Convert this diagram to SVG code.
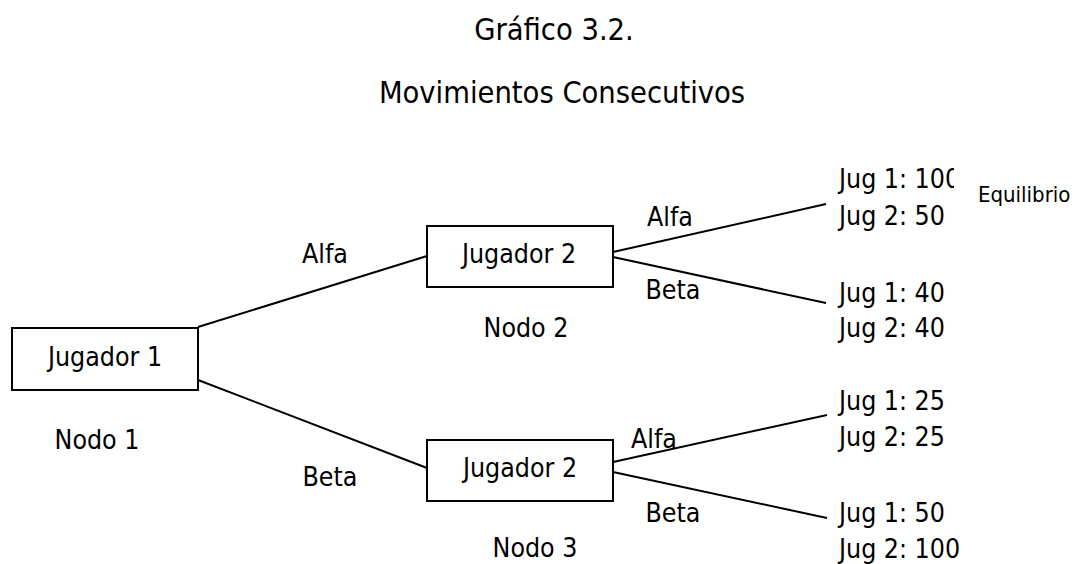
<svg xmlns="http://www.w3.org/2000/svg" width="1080" height="564" viewBox="0 0 1080 564">
<style>
text{font-family:"DejaVu Sans Condensed","DejaVu Sans","Noto Sans",sans-serif;font-stretch:condensed;font-size:26.5px;fill:#000}
.t{font-size:30.5px;text-anchor:middle}
.c{text-anchor:middle}
.s{font-size:22px}
rect.n{fill:#fff;stroke:#000;stroke-width:2}
#connectors line{stroke:#000;stroke-width:2}
</style>
<defs>
<clipPath id="clip100"><rect x="820" y="150" width="134" height="50"/></clipPath>
</defs>
<rect width="1080" height="564" fill="#fff"/>
<g id="title">
<text class="t" x="554" y="40">Gráfico 3.2.</text>
<text class="t" x="562" y="103">Movimientos Consecutivos</text>
</g>
<g id="connectors">
<line x1="198" y1="327" x2="427" y2="256"/>
<line x1="198" y1="380" x2="427" y2="468"/>
<line x1="613" y1="252" x2="826" y2="204"/>
<line x1="613" y1="257" x2="826" y2="303"/>
<line x1="613" y1="462" x2="827" y2="415"/>
<line x1="613" y1="472" x2="827" y2="518"/>
</g>
<g id="edge-labels">
<text class="c" x="325" y="263">Alfa</text>
<text class="c" x="330" y="486">Beta</text>
<text class="c" x="670" y="226">Alfa</text>
<text class="c" x="673" y="299">Beta</text>
<text class="c" x="654" y="448">Alfa</text>
<text class="c" x="673" y="522">Beta</text>
</g>
<g id="node1">
<rect class="n" x="12" y="328" width="186" height="62"/>
<text class="c" x="105" y="366">Jugador 1</text>
<text class="c" x="97" y="449">Nodo 1</text>
</g>
<g id="node2">
<rect class="n" x="427" y="226" width="186" height="61"/>
<text class="c" x="519" y="263">Jugador 2</text>
<text class="c" x="526" y="337">Nodo 2</text>
</g>
<g id="node3">
<rect class="n" x="427" y="440" width="186" height="61"/>
<text class="c" x="520" y="477">Jugador 2</text>
<text class="c" x="535" y="557">Nodo 3</text>
</g>
<g id="payoff-aa">
<text x="839" y="188" clip-path="url(#clip100)">Jug 1: 100</text>
<text x="839" y="225">Jug 2: 50</text>
<text class="s" x="978" y="202">Equilibrio</text>
</g>
<g id="payoff-ab">
<text x="839" y="302">Jug 1: 40</text>
<text x="839" y="337">Jug 2: 40</text>
</g>
<g id="payoff-ba">
<text x="839" y="410">Jug 1: 25</text>
<text x="839" y="446">Jug 2: 25</text>
</g>
<g id="payoff-bb">
<text x="839" y="522">Jug 1: 50</text>
<text x="839" y="558">Jug 2: 100</text>
</g>
</svg>
